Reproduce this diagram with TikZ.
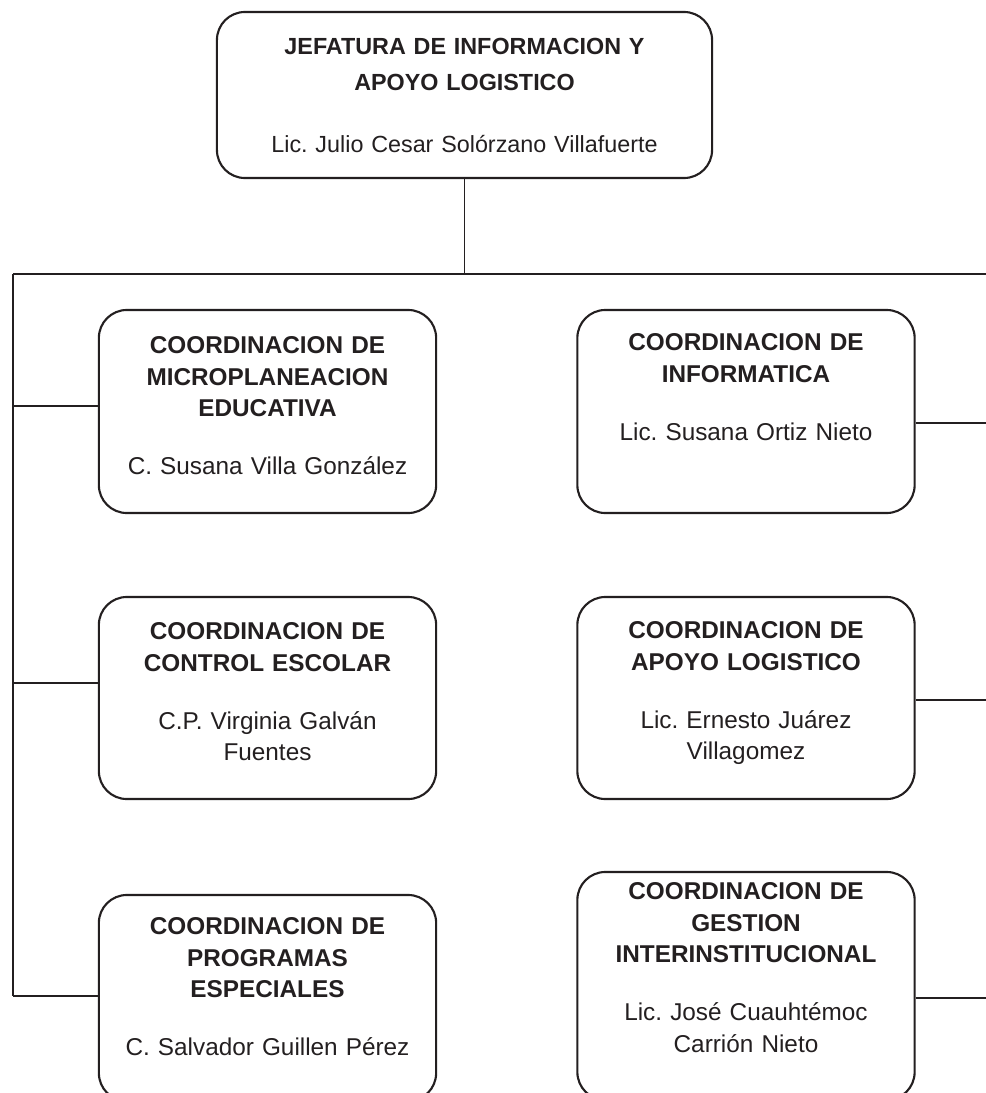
\documentclass[tikz,border=0pt]{standalone}
\usepackage{fontspec}
\setmainfont{Liberation Sans}
\usetikzlibrary{positioning}
\definecolor{tinta}{RGB}{35,31,32}
\frenchspacing

\begin{document}
\begin{tikzpicture}[
  x=0.025cm, y=-0.025cm,
  cargo/.style={draw=tinta, line width=1.5pt, rounded corners=0.7cm,
    text=tinta, align=center, inner sep=0pt, text width=8.43cm,
    font=\fontsize{17.3}{22.3}\selectfont},
  enlace/.style={draw=tinta, line width=1.4pt}
]
  \useasboundingbox (0,0) rectangle (986,1093);
  \clip (0,0) rectangle (986,1093);

  % jefatura
  \node[cargo, text width=12.375cm, text height=1.075cm, text depth=3.075cm,
    font=\fontsize{16.6}{25}\selectfont] (jefatura) at (464.5,95)
    {\textbf{JEFATURA DE INFORMACION Y}\\\textbf{APOYO LOGISTICO}\\[19pt]
     Lic. Julio Cesar Solórzano Villafuerte};

  % coordinaciones, columna izquierda
  \node[cargo, text height=1.1cm, text depth=3.975cm] (micro) at (267.5,411.5)
    {\textbf{COORDINACION DE}\\\textbf{MICROPLANEACION}\\\textbf{EDUCATIVA}\\[19pt]
     C. Susana Villa González};
  \node[cargo, text height=1.075cm, text depth=3.975cm] (control) at (267.5,698)
    {\textbf{COORDINACION DE}\\\textbf{CONTROL ESCOLAR}\\[19pt]
     C.P. Virginia Galván\\Fuentes};
  \node[cargo, text height=1.0cm, text depth=4.15cm] (programas) at (267.5,998)
    {\textbf{COORDINACION DE}\\\textbf{PROGRAMAS}\\\textbf{ESPECIALES}\\[19pt]
     C. Salvador Guillen Pérez};

  % coordinaciones, columna derecha
  \node[cargo, text height=1.025cm, text depth=4.05cm] (informatica) at (746,411.5)
    {\textbf{COORDINACION DE}\\\textbf{INFORMATICA}\\[19pt]
     Lic. Susana Ortiz Nieto};
  \node[cargo, text height=1.05cm, text depth=4.0cm] (logistica) at (746,698)
    {\textbf{COORDINACION DE}\\\textbf{APOYO LOGISTICO}\\[19pt]
     Lic. Ernesto Juárez\\Villagomez};
  \node[cargo, text height=0.7cm, text depth=5.0cm] (gestion) at (746,986)
    {\textbf{COORDINACION DE}\\\textbf{GESTION}\\\textbf{INTERINSTITUCIONAL}\\[19pt]
     Lic. José Cuauhtémoc\\Carrión Nieto};

  % lineas de mando
  \coordinate (raiz) at (13,274);
  \coordinate (fin) at (986,274);
  \coordinate (pie) at (13,996);
  \draw[enlace] (jefatura.south) -- (jefatura.south |- raiz);
  \draw[enlace] (raiz) -- (fin);
  \draw[enlace] (raiz) -- (pie);

  \coordinate (i1) at (13,406);
  \coordinate (i2) at (13,683);
  \draw[enlace] (i1) -- (i1 -| micro.west);
  \draw[enlace] (i2) -- (i2 -| control.west);
  \draw[enlace] (pie) -- (pie -| programas.west);

  \coordinate (d1) at (986,423);
  \coordinate (d2) at (986,700);
  \coordinate (d3) at (986,998);
  \draw[enlace] (informatica.east |- d1) -- (d1);
  \draw[enlace] (logistica.east |- d2) -- (d2);
  \draw[enlace] (gestion.east |- d3) -- (d3);
\end{tikzpicture}
\end{document}
